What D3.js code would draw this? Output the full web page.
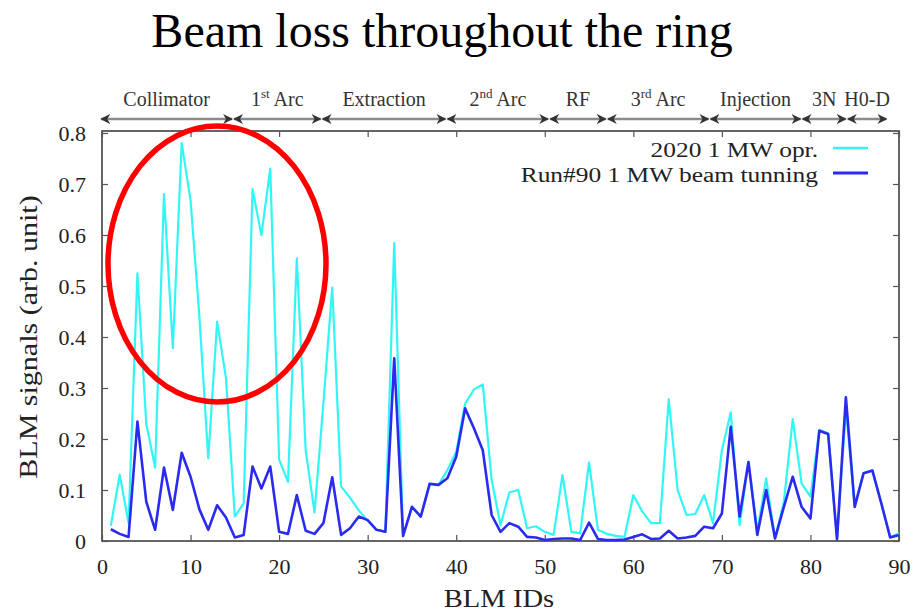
<!DOCTYPE html>
<html><head><meta charset="utf-8">
<script src="https://cdn.jsdelivr.net/npm/d3@7"></script>
<style>
html,body{margin:0;padding:0;background:#fff;}
svg text{font-family:"Liberation Serif","Times New Roman",serif;}
</style></head>
<body><svg id="c" width="914" height="612"></svg>
<script>
const blmIds = d3.range(1, 91);
const opr2020 = [0.03,0.13,0.035,0.525,0.23,0.144,0.68,0.378,0.78,0.668,
0.44,0.162,0.43,0.32,0.048,0.074,0.69,0.60,0.73,0.16,
0.116,0.554,0.178,0.056,0.27,0.497,0.107,0.085,0.06,0.04,
0.022,0.018,0.584,0.01,0.067,0.048,0.112,0.11,0.139,0.175,
0.269,0.297,0.307,0.12,0.031,0.095,0.1,0.025,0.029,0.018,
0.012,0.129,0.018,0.015,0.154,0.022,0.014,0.01,0.008,0.09,
0.058,0.035,0.035,0.278,0.1,0.051,0.053,0.09,0.035,0.178,
0.252,0.031,0.155,0.018,0.123,0.005,0.077,0.239,0.113,0.087,
0.218,0.211,0.005,0.26,0.07,0.133,0.138,0.074,0.008,0.015];
const run90 = [0.023,0.014,0.008,0.234,0.077,0.022,0.144,0.061,0.173,0.126,
0.062,0.022,0.07,0.046,0.007,0.012,0.146,0.103,0.146,0.018,
0.014,0.09,0.02,0.014,0.035,0.125,0.012,0.025,0.048,0.041,
0.022,0.018,0.358,0.01,0.067,0.048,0.112,0.11,0.123,0.165,
0.26,0.221,0.178,0.051,0.018,0.035,0.028,0.008,0.007,0.002,
0.004,0.005,0.005,0.002,0.036,0.004,0.002,0.002,0.003,0.008,
0.013,0.004,0.005,0.02,0.005,0.007,0.01,0.028,0.025,0.054,
0.224,0.048,0.155,0.012,0.1,0.005,0.067,0.126,0.067,0.044,
0.216,0.21,0.003,0.282,0.067,0.133,0.138,0.074,0.007,0.012];
const seriesNames = ["2020 1 MW opr.", "Run#90 1 MW beam tunning"];
const xTicks = [0,10,20,30,40,50,60,70,80,90];
const yTicks = [0,0.1,0.2,0.3,0.4,0.5,0.6,0.7,0.8];
const yTickLabels = ["0","0.1","0.2","0.3","0.4","0.5","0.6","0.7","0.8"];
const regionNames = ["Collimator","1|st| Arc","Extraction","2|nd| Arc","RF","3|rd| Arc","Injection","3N","H0-D"];
const regionBounds = [-0.2,14.8,24.8,38.9,50.5,57,68.6,79,84.1,88.7];
const titleText = "Beam loss throughout the ring";
const xLabel = "BLM IDs", yLabel = "BLM signals (arb. unit)";

const svg = d3.select("#c");
const L=102, R=899, T=133, B=541;
const x = d3.scaleLinear([0,90],[L,R]);
const y = d3.scaleLinear([0,0.8],[B,T]);
const stretch = (sel,k) => sel.each(function(){
  const w=this.getComputedTextLength();
  d3.select(this).attr("textLength",w*k).attr("lengthAdjust","spacingAndGlyphs"); });

svg.append("text").attr("x",442).attr("y",47).attr("text-anchor","middle")
  .attr("font-size",48).attr("fill","#000").text(titleText);

// region strip
const defs = svg.append("defs");
defs.append("marker").attr("id","ah").attr("viewBox","0 0 10 10").attr("refX",9).attr("refY",5)
  .attr("markerWidth",4).attr("markerHeight",4).attr("orient","auto-start-reverse")
  .attr("markerUnits","strokeWidth")
  .append("path").attr("d","M0,0 L10,5 L0,10 L3,5 Z").attr("fill","#333");
const segs = regionNames.map((n,i)=>({n, a:regionBounds[i], b:regionBounds[i+1]}));
svg.append("g").selectAll("line").data(segs).join("line")
  .attr("x1",d=>x(d.a)+1).attr("x2",d=>x(d.b)-1).attr("y1",119).attr("y2",119)
  .attr("stroke","#8a8a8a").attr("stroke-width",2.5)
  .attr("marker-start","url(#ah)").attr("marker-end","url(#ah)");
const rl = svg.append("g").selectAll("text").data(segs).join("text")
  .attr("x",d=>x((d.a+d.b)/2)).attr("y",106).attr("text-anchor","middle")
  .attr("font-size",20).attr("fill","#333");
rl.each(function(d){
  const parts = d.n.split("|"); const t=d3.select(this);
  t.append("tspan").text(parts[0]);
  if(parts.length>1){
    t.append("tspan").attr("font-size",13).attr("dy",-8).text(parts[1]);
    t.append("tspan").attr("dy",8).text(parts[2]);
  }
});

// frame
svg.append("rect").attr("x",L).attr("y",T-2).attr("width",R-L).attr("height",B-T+2)
  .attr("fill","none").attr("stroke","#333").attr("stroke-width",1.5);

const styleAxis = g => { g.select(".domain").remove();
  g.selectAll(".tick line").attr("stroke","#555").attr("stroke-width",1.2);
  g.selectAll(".tick text").attr("fill","#222").attr("font-size",22)
   .attr("font-family","'Liberation Serif',serif"); };
svg.append("g").attr("transform",`translate(${L},0)`)
  .call(d3.axisLeft(y).tickValues(yTicks).tickSize(-6).tickPadding(16).tickFormat((d,i)=>yTickLabels[i])).call(styleAxis);
svg.append("g").attr("transform",`translate(${R},0)`)
  .call(d3.axisRight(y).tickValues(yTicks).tickSize(-6).tickFormat("")).call(styleAxis);
svg.append("g").attr("transform",`translate(0,${B})`)
  .call(d3.axisBottom(x).tickValues(xTicks).tickSize(-6).tickPadding(17).tickFormat(d3.format("d"))).call(styleAxis);
svg.append("g").attr("transform",`translate(0,${T-2})`)
  .call(d3.axisTop(x).tickValues(xTicks).tickSize(-6).tickFormat("")).call(styleAxis);

svg.append("text").attr("x",499).attr("y",607).attr("text-anchor","middle")
  .attr("font-size",26).attr("fill","#222").text(xLabel).call(stretch,1.1);
svg.append("text").attr("transform",`translate(37,${(T+B)/2}) rotate(-90)`).attr("text-anchor","middle")
  .attr("font-size",25).attr("fill","#222").text(yLabel).call(stretch,1.2);

// lines
const line = d3.line().x((d,i)=>x(blmIds[i])).y(d=>y(d));
svg.append("path").datum(opr2020).attr("d",line).attr("fill","none")
  .attr("stroke","#33f5f5").attr("stroke-width",2.2).attr("stroke-linejoin","round");
svg.append("path").datum(run90).attr("d",line).attr("fill","none")
  .attr("stroke","#2a2af0").attr("stroke-width",2.6).attr("stroke-linejoin","round");

// legend
const lg = svg.append("g");
const lcol = ["#33f5f5","#2a2af0"];
seriesNames.forEach((n,i)=>{
  lg.append("text").attr("x",818).attr("y",157+25*i).attr("text-anchor","end")
    .attr("font-size",20).attr("fill","#222").text(n).call(stretch,1.27);
  lg.append("line").attr("x1",833).attr("x2",868).attr("y1",148+25*i).attr("y2",148+25*i)
    .attr("stroke",lcol[i]).attr("stroke-width",i?3:2.5);
});

// red ellipse
svg.append("ellipse").attr("cx",217).attr("cy",264).attr("rx",109).attr("ry",138)
  .attr("fill","none").attr("stroke","#f00").attr("stroke-width",5.5);
</script></body></html>
